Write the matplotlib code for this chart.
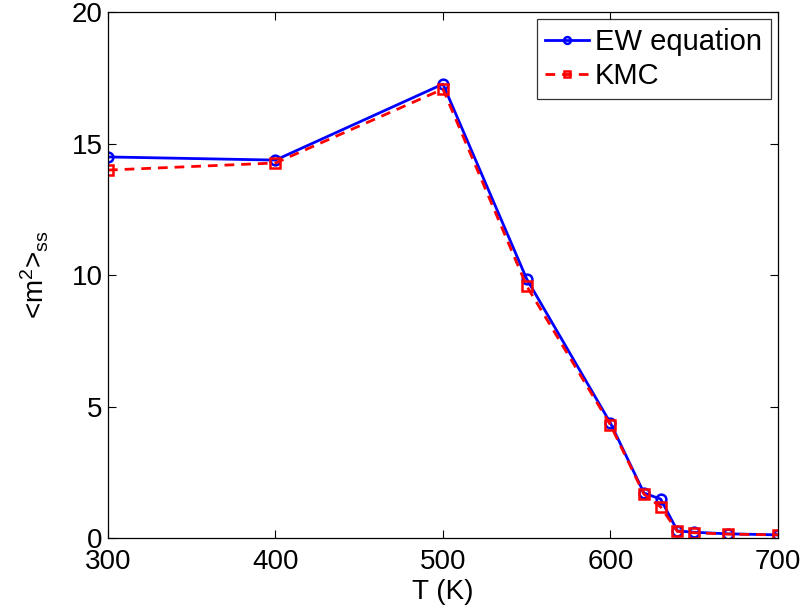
import matplotlib
matplotlib.use("Agg")
import matplotlib.pyplot as plt

plt.rcParams['font.family'] = ['Liberation Sans', 'DejaVu Sans']
plt.rcParams['mathtext.fontset'] = 'custom'
plt.rcParams['mathtext.rm'] = 'Liberation Sans'
plt.rcParams['mathtext.it'] = 'Liberation Sans'

T = [300, 400, 500, 550, 600, 620, 630, 640, 650, 670, 700]
ew = [14.49, 14.37, 17.26, 9.85, 4.37, 1.71, 1.48, 0.27, 0.22, 0.16, 0.12]
kmc = [13.99, 14.26, 17.07, 9.58, 4.30, 1.67, 1.18, 0.25, 0.20, 0.15, 0.12]

fig = plt.figure(figsize=(8.07, 6.13), dpi=100)
ax = fig.add_axes([0.1338, 0.1223, 0.964 - 0.1338, 0.9804 - 0.1223])

ax.plot(T, ew, '-o', color='blue', linewidth=2, markersize=7,
        markerfacecolor='none', markeredgewidth=1.8, label='EW equation')
ax.plot(T, kmc, '--s', color='red', linewidth=2, markersize=6.5,
        markerfacecolor='none', markeredgewidth=1.8, label='KMC', dashes=(3.5, 2.5))

ax.set_xlim(300, 700)
ax.set_ylim(0, 20)
ax.set_xticks([300, 400, 500, 600, 700])
ax.set_yticks([0, 5, 10, 15, 20])
ax.tick_params(direction='in', top=True, right=True, labelsize=20, length=6, width=0.8)
ax.tick_params(axis='x', pad=8)
ax.tick_params(axis='y', pad=4)
for s in ax.spines.values():
    s.set_linewidth(0.9)

ax.set_xlabel('T (K)', fontsize=20, labelpad=3)
ax.set_ylabel(r'<m$^2$>$_{\rm ss}$', fontsize=20, labelpad=15)

leg = ax.legend(loc='upper right', fontsize=21, frameon=True, fancybox=False,
                edgecolor='black', handlelength=1.5, handletextpad=0.2,
                borderpad=0.3, labelspacing=0.2, borderaxespad=0.25,
                markerscale=0.7)
leg.get_frame().set_linewidth(0.9)

fig.savefig('out.png', dpi=100)
